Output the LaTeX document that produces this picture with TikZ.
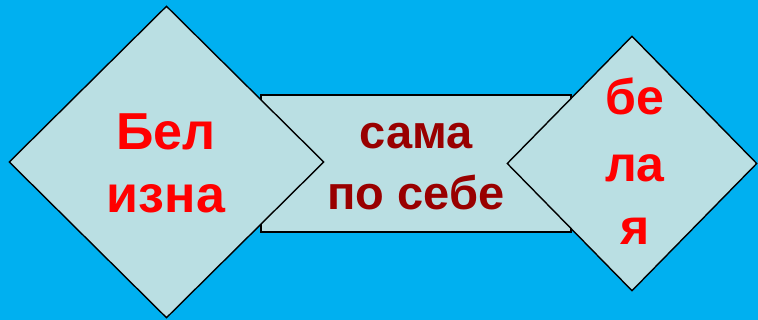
\documentclass[tikz,border=0pt]{standalone}
\usepackage{fontspec}
\setmainfont{Liberation Sans}
\usetikzlibrary{shapes.geometric}
\definecolor{bg}{HTML}{00B0F0}
\definecolor{shapefill}{HTML}{BADFE3}
\definecolor{txtred}{HTML}{FF0000}
\definecolor{txtdark}{HTML}{990000}
\tikzset{
  panel/.style={draw=black, line width=1.4pt, fill=shapefill, inner sep=0pt},
  rhomb/.style={panel, shape=diamond},
  redword/.style={anchor=base, inner sep=0pt, text=txtred, font=\bfseries\fontsize{52}{60}\selectfont},
  darkword/.style={anchor=base, inner sep=0pt, text=txtdark, font=\bfseries\fontsize{47}{56}\selectfont},
  sideword/.style={anchor=base, inner sep=0pt, text=txtred, font=\bfseries\fontsize{50}{58}\selectfont},
}
\begin{document}
\begin{tikzpicture}[x=1pt,y=-1pt]
\fill[bg] (0,0) rectangle (758,320);
\useasboundingbox (0,0) rectangle (758,320);
% middle band (behind the diamonds)
\node[panel, minimum width=310pt, minimum height=137pt, anchor=center] (band) at (416,163.5) {};
% diamonds
\node[rhomb, minimum width=315pt, minimum height=312pt] (left) at (166.5,162) {};
\node[rhomb, minimum width=250pt, minimum height=255pt] (right) at (632,163.5) {};
% texts
\node[redword] (l1) at (166,150) {Бел};
\node[redword] (l2) at (166,213) {изна};
\node[darkword] (m1) at (416,149) {сама};
\node[darkword] (m2) at (416,210) {по себе};
\node[sideword] (r1) at (635,115) {бе};
\node[sideword] (r2) at (635,182) {ла};
\node[sideword] (r3) at (635,245) {я};
\end{tikzpicture}
\end{document}
